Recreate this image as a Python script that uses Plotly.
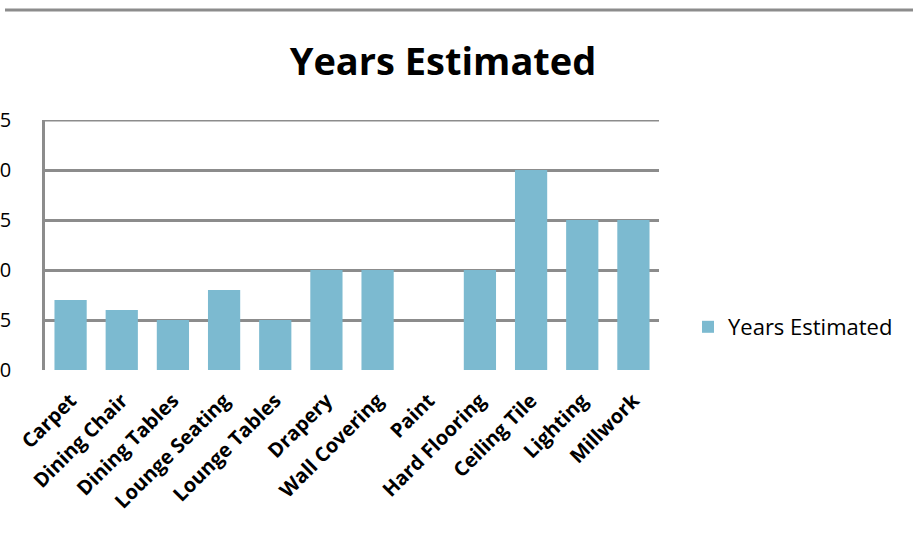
import plotly.graph_objects as go

categories = ["Carpet", "Dining Chair", "Dining Tables", "Lounge Seating", "Lounge Tables",
              "Drapery", "Wall Covering", "Paint", "Hard Flooring", "Ceiling Tile",
              "Lighting", "Millwork"]
years = [7, 6, 5, 8, 5, 10, 10, 0, 10, 20, 15, 15]
y_ticks = [0, 5, 10, 15, 20, 25]

L, R, T, B = 45, 254, 120, 186
W, H = 913, 556
pw, ph = W - L - R, H - T - B
GRID = "#8c8c8c"

fig = go.Figure()
fig.add_trace(go.Bar(
    x=categories, y=years, name="Years Estimated",
    marker=dict(color="#7cbad0", line=dict(width=0)),
    showlegend=True,
))

fig.update_layout(
    width=W, height=H,
    margin=dict(l=L, r=R, t=T, b=B, autoexpand=False),
    paper_bgcolor="white", plot_bgcolor="white",
    bargap=0.37,
    font=dict(family="Open Sans, sans-serif", color="black"),
    title=dict(text="<b>Years Estimated</b>", x=(443 - L) / pw, xref="paper", xanchor="center",
               y=1 - 62 / H, yanchor="middle",
               font=dict(size=38, family="Open Sans, sans-serif", color="black")),
    showlegend=True,
    legend=dict(x=(688 - L) / pw, xanchor="left", y=(370 - 327) / ph, yanchor="middle",
                font=dict(size=22, family="Open Sans, sans-serif"),
                bgcolor="rgba(0,0,0,0)", itemwidth=30),
    xaxis=dict(
        type="category", tickangle=-45, showgrid=False, showline=False,
        tickfont=dict(size=20, family="Open Sans, sans-serif", weight="bold"),
        automargin=False, ticks="", ticklabelstandoff=14,
    ),
    yaxis=dict(
        range=[0, 25], tickvals=y_ticks, showgrid=True, gridcolor=GRID, gridwidth=2.5,
        showline=True, linecolor=GRID, linewidth=2.5, zeroline=False,
        tickfont=dict(size=20, family="Open Sans, sans-serif"),
        ticklabelstandoff=27, automargin=False, ticks="",
    ),
    shapes=[
        dict(type="line", xref="paper", yref="paper",
             x0=(5 - L) / pw, x1=(913 - L) / pw, y0=(H - B - 10) / ph, y1=(H - B - 10) / ph,
             line=dict(color=GRID, width=3)),
        dict(type="line", xref="paper", yref="y", x0=0, x1=1,
             y0=y_ticks[-1], y1=y_ticks[-1], line=dict(color=GRID, width=3), layer="below"),
    ],
)

fig.write_html("out.html")
